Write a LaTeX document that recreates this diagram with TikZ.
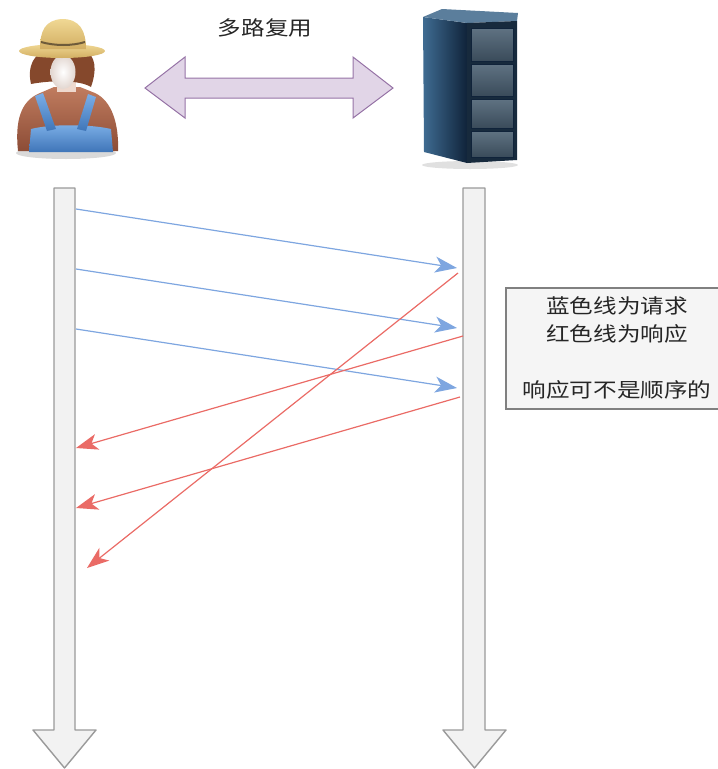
\documentclass[tikz,border=0pt]{standalone}
\usepackage{fontspec}
\newfontfamily\cjk[FakeStretch=1.18]{Noto Sans CJK SC}
\usetikzlibrary{arrows.meta}

\definecolor{reqblue}{HTML}{7EA6E0}
\definecolor{resred}{HTML}{EA6B66}
\definecolor{lilacfill}{HTML}{E1D5E7}
\definecolor{lilacline}{HTML}{9673A6}
\definecolor{barfill}{HTML}{F2F2F2}
\definecolor{barline}{HTML}{9A9A9A}
\definecolor{notefill}{HTML}{F5F5F5}
\definecolor{noteline}{HTML}{808080}
\definecolor{hatlight}{HTML}{F0D894}
\definecolor{hatdark}{HTML}{D2AE62}
\definecolor{hatband}{HTML}{6E5B3A}
\definecolor{hair}{HTML}{85482C}
\definecolor{skin}{HTML}{F6E9E2}
\definecolor{shirtlight}{HTML}{C07C5F}
\definecolor{shirtdark}{HTML}{8C4C36}
\definecolor{denimlight}{HTML}{7BAEE6}
\definecolor{denimdark}{HTML}{3F75B8}
\definecolor{rackside}{HTML}{3F6C92}
\definecolor{rackdark}{HTML}{10233A}
\definecolor{racktop}{HTML}{5B7E9C}
\definecolor{rackfront}{HTML}{172A3D}
\definecolor{baylight}{HTML}{5F7282}
\definecolor{baydark}{HTML}{3A4B5A}

\tikzset{
  lifeline/.style={draw=barline, fill=barfill, line width=1.4pt, line join=round},
  msgtip/.tip={Stealth[length=22pt,width=16pt,inset=6pt]},
  request/.style={draw=reqblue, line width=1.2pt, -msgtip},
  response/.style={draw=resred, line width=1.2pt, -msgtip},
  muxarrow/.style={draw=lilacline, fill=lilacfill, line width=1pt, line join=miter},
  notebox/.style={draw=noteline, fill=notefill, line width=1.2pt},
  cjktext/.style={font=\cjk\fontsize{20}{28}\selectfont, text=black!85, inner sep=0pt}
}

\begin{document}
\begin{tikzpicture}[x=1pt,y=-1pt]
\useasboundingbox (0,0) rectangle (718,769);

% ---------- client: farmer ----------
\fill[black!25, opacity=0.6] (66,153) ellipse (50 and 6);
\shade[top color=shirtlight, bottom color=shirtdark]
  (18,151) .. controls (15,122) and (20,101) .. (40,93) -- (54,87) -- (80,87)
  -- (95,93) .. controls (112,101) and (119,124) .. (118,151) -- cycle;
\fill[skin!85!shirtlight] (57,80) rectangle (76,92);
\shade[top color=denimlight, bottom color=denimdark]
  (29,152) -- (31,129) .. controls (50,124) and (90,124) .. (111,129) -- (113,152) -- cycle;
\shade[top color=denimlight, bottom color=denimdark]
  (35,96) -- (43,93) -- (56,129) -- (47,131) -- cycle;
\shade[top color=denimlight, bottom color=denimdark]
  (88,94) -- (96,97) -- (86,131) -- (77,129) -- cycle;
\fill[hair] (31,84) .. controls (27,66) and (34,53) .. (48,50) -- (84,50)
  .. controls (96,55) and (97,70) .. (91,87) .. controls (80,80) and (52,80) .. cycle;
\shade[inner color=white, outer color=skin!92!black] (63,72) ellipse (12.5 and 17);
\shade[top color=hatlight, bottom color=hatdark] (62,51) ellipse (43 and 7);
\shade[top color=hatlight, bottom color=hatdark]
  (40,49) .. controls (40,31) and (45,20) .. (62,19)
  .. controls (80,19) and (86,31) .. (86,49) -- cycle;
\draw[hatband, line width=2pt] (41,42) .. controls (55,46) and (72,46) .. (85,42);

% ---------- server: rack ----------
\fill[black!20, opacity=0.6] (470,165) ellipse (48 and 4);
\shade[left color=rackside, right color=rackdark]
  (423,17) -- (467,23) -- (467,163) -- (424,152) -- cycle;
\fill[racktop] (423,17) -- (442,9) -- (518,13) -- (517,21) -- (467,23) -- cycle;
\fill[rackfront] (467,23) -- (517,21) -- (517,160) -- (467,163) -- cycle;
\foreach \t/\b in {28/61, 64/96, 99/128, 131/157}{
  \shade[top color=baylight, bottom color=baydark, draw=rackdark, line width=0.8pt]
    (471,\t) rectangle (513,\b);
}

% ---------- multiplexing arrow ----------
\draw[muxarrow] (145,88) -- (185,57) -- (185,78) -- (353,78) -- (353,57)
  -- (393,88) -- (353,118) -- (353,98) -- (185,98) -- (185,118) -- cycle;
\node[cjktext] (mux) at (265,28) {多路复用};

% ---------- lifelines ----------
\draw[lifeline] (54,188) -- (75,188) -- (75,730) -- (96,730) -- (64.5,768)
  -- (33,730) -- (54,730) -- cycle;
\draw[lifeline] (463,188) -- (485,188) -- (485,730) -- (506,730) -- (474.5,768)
  -- (443,730) -- (463,730) -- cycle;

% message end points on the lifelines
\coordinate (req1s) at (76,209);  \coordinate (req1e) at (457,268);
\coordinate (req2s) at (76,269);  \coordinate (req2e) at (457,328);
\coordinate (req3s) at (76,329);  \coordinate (req3e) at (457,388);
\coordinate (res1s) at (458,273); \coordinate (res1e) at (87,568);
\coordinate (res2s) at (463,336); \coordinate (res2e) at (76,448);
\coordinate (res3s) at (460,397); \coordinate (res3e) at (76,508);

% ---------- requests and responses ----------
\draw[request] (req1s) -- (req1e);
\draw[request] (req2s) -- (req2e);
\draw[request] (req3s) -- (req3e);
\draw[response] (res1s) -- (res1e);
\draw[response] (res2s) -- (res2e);
\draw[response] (res3s) -- (res3e);

% ---------- legend ----------
\draw[notebox] (506,288) rectangle (730,409);
\node[cjktext, align=center] (legend) at (617,348)
  {蓝色线为请求\\红色线为响应\\\mbox{}\\响应可不是顺序的};
\end{tikzpicture}
\end{document}
